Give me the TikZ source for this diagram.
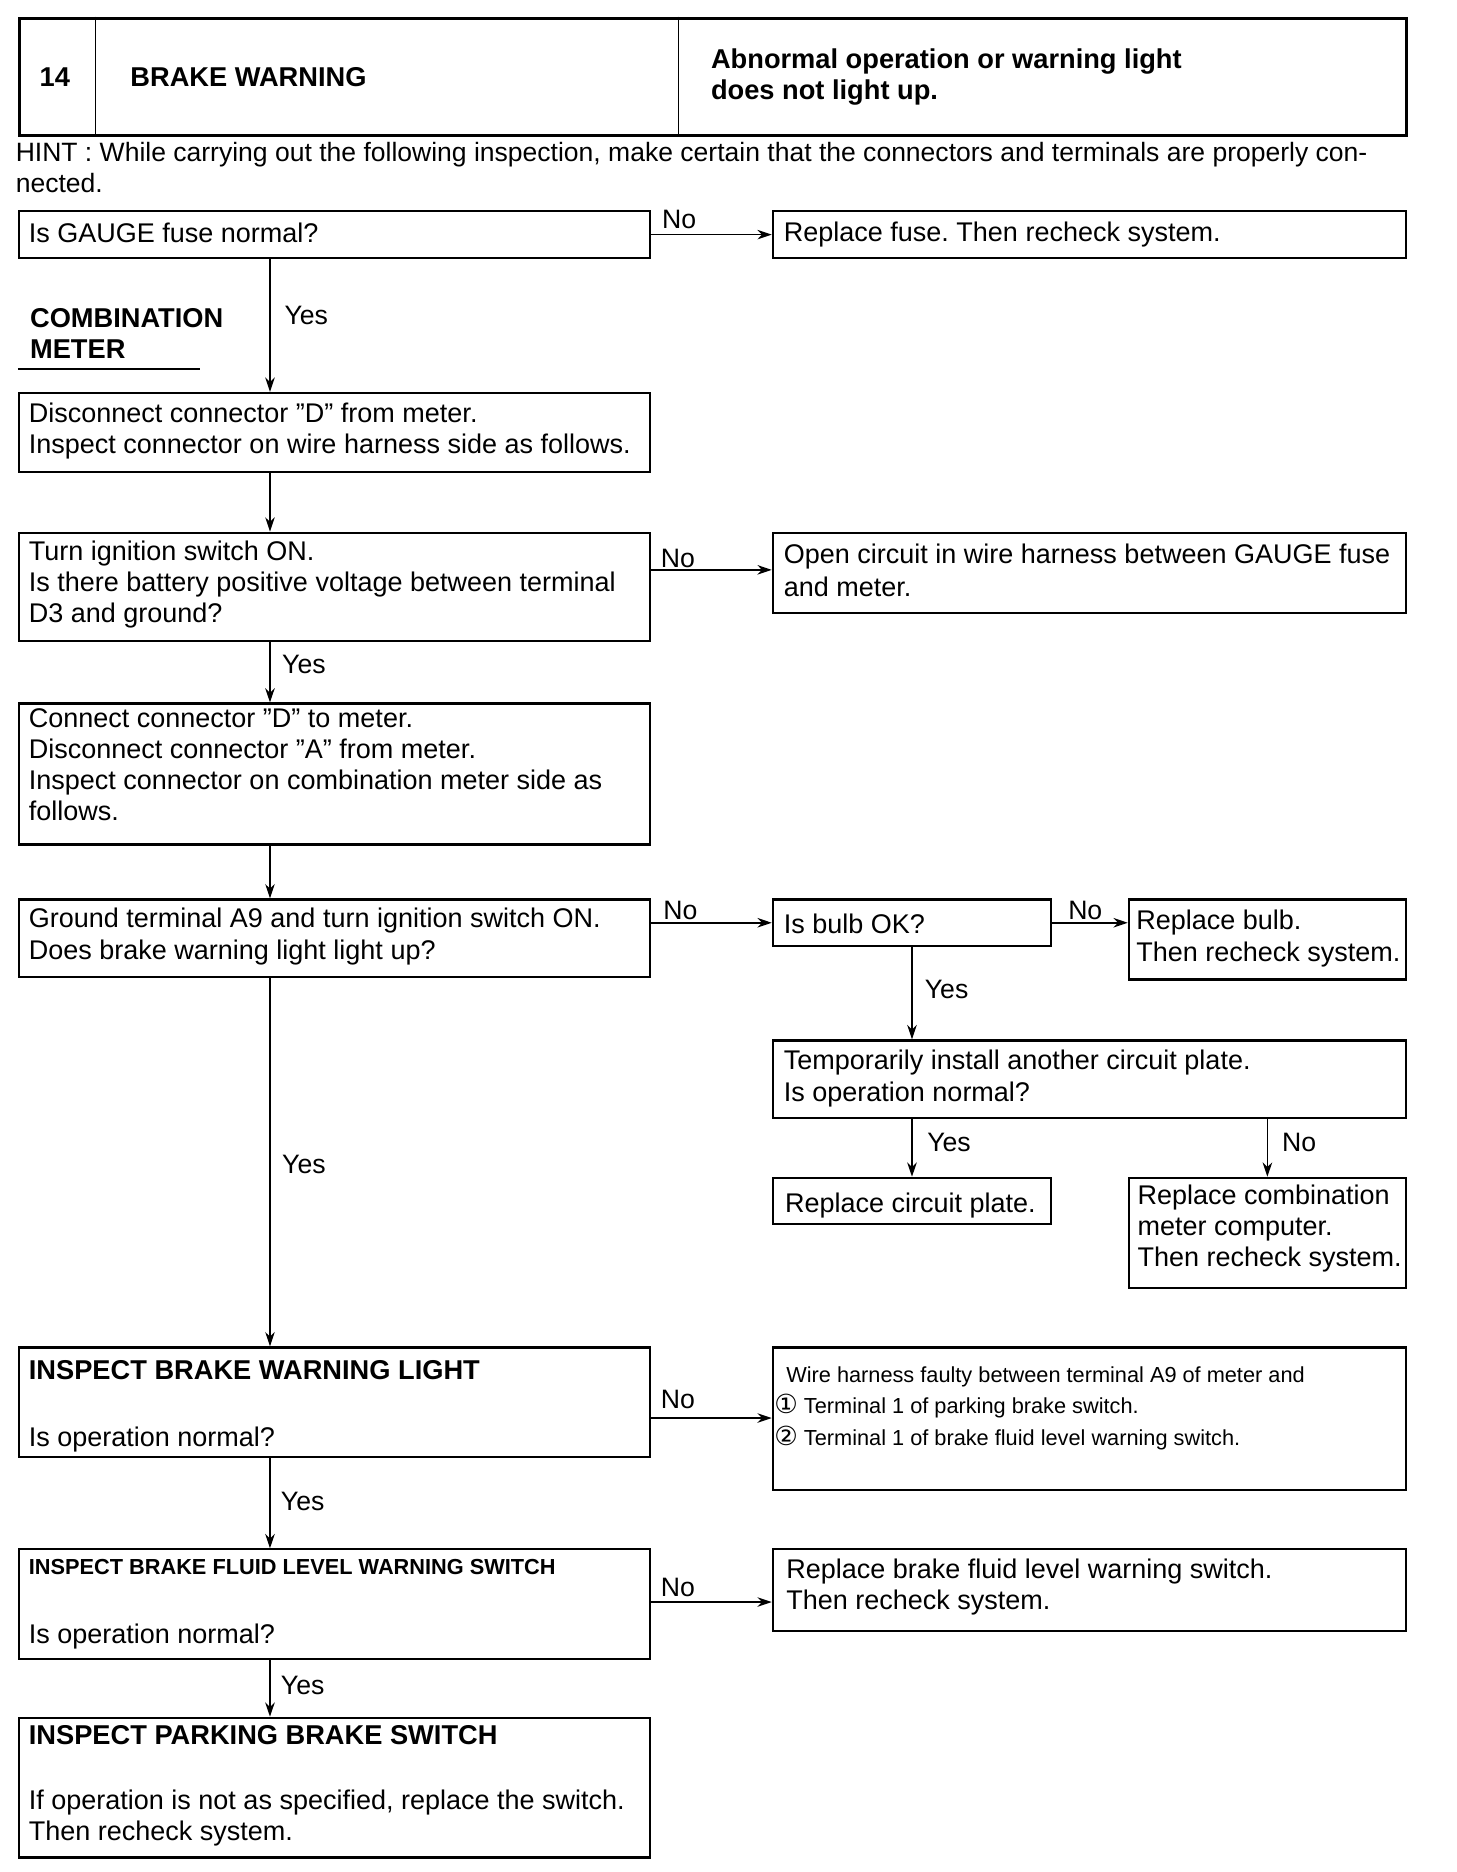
\documentclass[tikz,border=0pt]{standalone}
\usepackage{fontspec}
\setmainfont{Liberation Sans}
\newfontfamily\dejavu{DejaVu Sans}
\usetikzlibrary{arrows.meta}
\newcommand{\circnum}[1]{\hspace*{-10pt}\smash{\dejavu\fontsize{22}{26}\selectfont #1}}
\begin{document}
\begin{tikzpicture}[x=1pt,y=-1pt,
  box/.style={draw, line width=1.8pt, anchor=north west, inner sep=0pt},
  tbox/.style={draw, line width=2.4pt, anchor=north west, inner sep=0pt},
  txt/.style={anchor=base west, inner sep=0pt, align=left, font=\fontsize{22.6}{26}\selectfont},
  btxt/.style={anchor=base west, inner sep=0pt, align=left, font=\fontsize{22.8}{26}\selectfont\bfseries},
  sbtxt/.style={anchor=base west, inner sep=0pt, align=left, font=\fontsize{18.2}{26}\selectfont\bfseries},
  stxt/.style={anchor=base west, inner sep=0pt, align=left, font=\fontsize{18.2}{26.5}\selectfont},
  lbl/.style={anchor=base west, inner sep=0pt, font=\fontsize{22.3}{24}\selectfont},
  arr/.style={line width=1.3pt, -{Stealth[length=12pt,width=8pt]}}]
\useasboundingbox (0,0) rectangle (1219,1567);
\fill[white] (0,0) rectangle (1219,1567);

% title block
\node[tbox, minimum width=1161pt, minimum height=98pt] (title) at (15,14) {};
\coordinate (d1) at (80,14);
\coordinate (d2) at (568,14);
\draw[line width=1.4pt] (d1) -- (d1 |- title.south);
\draw[line width=1.4pt] (d2) -- (d2 |- title.south);
\node[btxt] (num) at (33,72) {14};
\node[btxt] (ttl) at (109,72) {BRAKE WARNING};
\node[btxt] (sym) at (595,83) {Abnormal operation or warning light\\does not light up.};

% hint
\node[txt, font=\fontsize{22.2}{26}\selectfont] (hint) at (13,161) {HINT : While carrying out the following inspection, make certain that the connectors and terminals are properly con-\\nected.};

% boxes
\node[box, minimum width=528pt, minimum height=39pt] (b1) at (15,176) {};
\node[box, minimum width=530pt, minimum height=39pt] (r1) at (646,176) {};
\node[box, minimum width=528pt, minimum height=66pt] (b2) at (15,328) {};
\node[box, minimum width=528pt, minimum height=91pt] (b3) at (15,445) {};
\node[box, minimum width=530pt, minimum height=67pt] (r3) at (646,445) {};
\node[box, minimum width=528pt, minimum height=118pt] (b4) at (15,588) {};
\node[box, minimum width=528pt, minimum height=65pt] (b5) at (15,752) {};
\node[box, minimum width=233pt, minimum height=39pt] (bulb) at (646,752) {};
\node[box, minimum width=232pt, minimum height=67pt] (rbulb) at (944,752) {};
\node[box, minimum width=530pt, minimum height=65pt] (tmp) at (646,870) {};
\node[box, minimum width=233pt, minimum height=39pt] (rcp) at (646,985) {};
\node[box, minimum width=232pt, minimum height=92pt] (rcm) at (944,985) {};
\node[box, minimum width=528pt, minimum height=92pt] (b6) at (15,1127) {};
\node[box, minimum width=530pt, minimum height=119pt] (r6) at (646,1127) {};
\node[box, minimum width=528pt, minimum height=92pt] (b7) at (15,1296) {};
\node[box, minimum width=530pt, minimum height=68pt] (r7) at (646,1296) {};
\node[box, minimum width=528pt, minimum height=117pt] (b8) at (15,1437) {};

% texts (base anchor = baseline of the last line)
\node[txt] (t1) at (24,203) {Is GAUGE fuse normal?};
\node[txt] (tr1) at (656,202) {Replace fuse.\ Then recheck system.};
\node[btxt] (cm) at (25,300) {COMBINATION\\METER};
\coordinate (ul1) at (15,309);
\coordinate (ul2) at (167,309);
\draw[line width=1.3pt] (ul1) -- (ul2);
\node[txt] (t2) at (24,380) {Disconnect connector "D" from meter.\\Inspect connector on wire harness side as follows.};
\node[txt] (t3) at (24,521) {Turn ignition switch ON.\\Is there battery positive voltage between terminal\\D3 and ground?};
\node[txt, font=\fontsize{22.6}{27}\selectfont] (tr3) at (656,499) {Open circuit in wire harness between GAUGE fuse\\and meter.};
\node[txt] (t4) at (24,687) {Connect connector "D" to meter.\\Disconnect connector "A" from meter.\\Inspect connector on combination meter side as\\follows.};
\node[txt, font=\fontsize{22.6}{27}\selectfont] (t5) at (24,803) {Ground terminal A9 and turn ignition switch ON.\\Does brake warning light light up?};
\node[txt] (tbulb) at (656,781) {Is bulb OK?};
\node[txt, font=\fontsize{22.6}{27}\selectfont] (trbulb) at (951,805) {Replace bulb.\\Then recheck system.};
\node[txt, font=\fontsize{22.6}{27}\selectfont] (ttmp) at (656,922) {Temporarily install another circuit plate.\\Is operation normal?};
\node[txt] (trcp) at (657,1015) {Replace circuit plate.};
\node[txt] (trcm) at (952,1060) {Replace combination\\meter computer.\\Then recheck system.};
\node[btxt] (t6a) at (24,1155) {INSPECT BRAKE WARNING LIGHT};
\node[txt] (t6b) at (24,1211) {Is operation normal?};
\node[stxt] (tr6) at (658,1210) {Wire harness faulty between terminal A9 of meter and\\\circnum{①} Terminal 1 of parking brake switch.\\\circnum{②} Terminal 1 of brake fluid level warning switch.};
\node[sbtxt] (t7a) at (24,1318) {INSPECT BRAKE FLUID LEVEL WARNING SWITCH};
\node[txt] (t7b) at (24,1376) {Is operation normal?};
\node[txt] (tr7) at (658,1347) {Replace brake fluid level warning switch.\\Then recheck system.};
\node[btxt] (t8a) at (24,1460) {INSPECT PARKING BRAKE SWITCH};
\node[txt] (t8b) at (24,1541) {If operation is not as specified, replace the switch.\\Then recheck system.};

% main column
\coordinate (xc) at (226,0);
\draw[arr] (b1.south -| xc) -- (b2.north -| xc);
\draw[arr] (b2.south -| xc) -- (b3.north -| xc);
\draw[arr] (b3.south -| xc) -- (b4.north -| xc);
\draw[arr] (b4.south -| xc) -- (b5.north -| xc);
\draw[arr] (b5.south -| xc) -- (b6.north -| xc);
\draw[arr] (b6.south -| xc) -- (b7.north -| xc);
\draw[arr] (b7.south -| xc) -- (b8.north -| xc);

% side arrows
\draw[arr] (b1.east) -- (r1.west);
\coordinate (y3) at (0,477);
\draw[arr] (b3.east |- y3) -- (r3.west |- y3);
\draw[arr] (b5.east |- bulb.west) -- (bulb.west);
\draw[arr] (bulb.east) -- (rbulb.west |- bulb.east);
\draw[arr] (bulb.south) -- (tmp.north -| bulb.south);
\draw[arr] (tmp.south -| rcp.north) -- (rcp.north);
\draw[arr] (tmp.south -| rcm.north) -- (rcm.north);
\coordinate (y6) at (0,1187);
\draw[arr] (b6.east |- y6) -- (r6.west |- y6);
\coordinate (y7) at (0,1341);
\draw[arr] (b7.east |- y7) -- (r7.west |- y7);

% labels
\node[lbl] (n1) at (554,191) {No};
\node[lbl] (y1) at (238,272) {Yes};
\node[lbl] (n3) at (553,475) {No};
\node[lbl] (y3l) at (236,564) {Yes};
\node[lbl] (n5) at (555,770) {No};
\node[lbl] (nb) at (894,770) {No};
\node[lbl] (yb) at (774,836) {Yes};
\node[lbl] (yt) at (776,964) {Yes};
\node[lbl] (nt) at (1073,964) {No};
\node[lbl] (y5) at (236,982) {Yes};
\node[lbl] (n6) at (553,1179) {No};
\node[lbl] (y6l) at (235,1264) {Yes};
\node[lbl] (n7) at (553,1336) {No};
\node[lbl] (y7l) at (235,1418) {Yes};
\end{tikzpicture}
\end{document}
